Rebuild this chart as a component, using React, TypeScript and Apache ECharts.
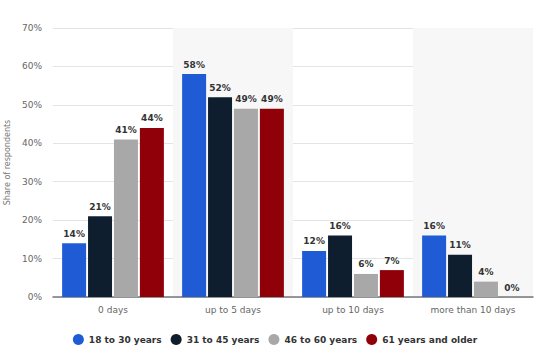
import React, { useEffect, useRef } from "react";
import * as echarts from "echarts";

const categories = ["0 days", "up to 5 days", "up to 10 days", "more than 10 days"];
const seriesNames = ["18 to 30 years", "31 to 45 years", "46 to 60 years", "61 years and older"];
const age18to30 = [14, 58, 12, 16];
const age31to45 = [21, 52, 16, 11];
const age46to60 = [41, 49, 6, 4];
const age61plus = [44, 49, 7, 0];
const yTicks = [0, 10, 20, 30, 40, 50, 60, 70];

const colors = ["#1f5bd5", "#0e1e2e", "#a8a8a8", "#8f0009"];

export default function App() {
  const ref = useRef<HTMLDivElement>(null);
  useEffect(() => {
    if (!ref.current) return;
    const chart = echarts.init(ref.current, null, { renderer: "svg" });
    const font = "DejaVu Sans";
    const data = [age18to30, age31to45, age46to60, age61plus];
    chart.setOption({
      animation: false,
      textStyle: { fontFamily: font },
      grid: { left: 53, right: 17, top: 28, bottom: 64, containLabel: false, outerBoundsMode: "none" },
      legend: {
        bottom: 11,
        left: "center",
        icon: "circle",
        itemWidth: 11,
        itemHeight: 11,
        itemGap: 9,
        textStyle: { fontFamily: font, fontWeight: "bold", fontSize: 9, color: "#333" },
        data: seriesNames,
      },
      xAxis: {
        type: "category",
        data: categories,
        axisTick: { show: false },
        axisLine: { lineStyle: { color: "#777", width: 1.5 } },
        axisLabel: { color: "#666", fontSize: 9, margin: 8, fontFamily: font },
        splitArea: { show: true, areaStyle: { color: ["rgba(255,255,255,0)", "#f7f7f7"] } },
      },
      yAxis: {
        type: "value",
        min: 0,
        max: 70,
        interval: 10,
        name: "Share of respondents",
        nameLocation: "middle",
        nameGap: 38,
        nameTextStyle: { color: "#777", fontSize: 8, fontFamily: font },
        axisLabel: {
          color: "#666",
          fontSize: 9,
          margin: 11,
          fontFamily: font,
          formatter: (v: number) => (yTicks.includes(v) ? v + "%" : ""),
        },
        splitLine: { lineStyle: { color: "#e4e4e4" } },
        axisLine: { show: false },
        axisTick: { show: false },
      },
      series: seriesNames.map((name, i) => ({
        name,
        type: "bar",
        data: data[i],
        barWidth: 24,
        barGap: "8%",
        itemStyle: { color: colors[i] },
        label: {
          show: true,
          position: "top",
          distance: 5,
          formatter: "{c}%",
          color: "#333",
          fontSize: 9,
          fontWeight: "bold",
          fontFamily: font,
        },
      })),
    });
    return () => chart.dispose();
  }, []);
  return (
    <div
      ref={ref}
      style={{ position: "absolute", left: 0, top: 0, width: 550, height: 361 }}
    />
  );
}
